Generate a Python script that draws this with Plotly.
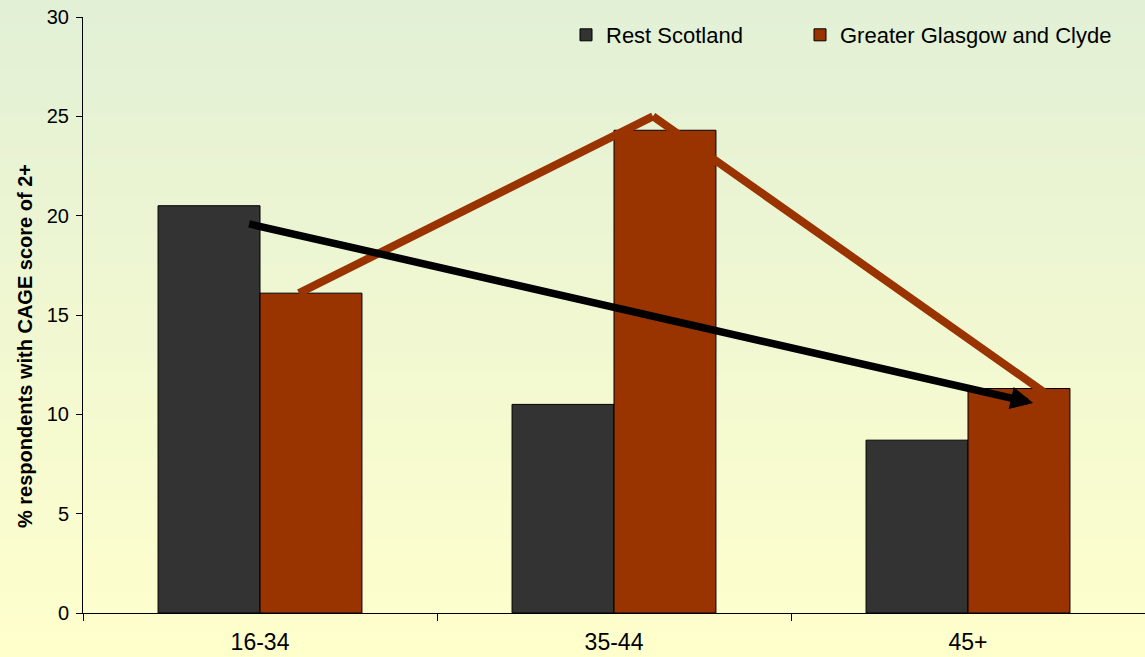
import plotly.graph_objects as go

categories = ["16-34", "35-44", "45+"]
rest_scotland = [20.5, 10.5, 8.7]
glasgow_clyde = [16.1, 24.3, 11.3]

# trend line drawn over the Glasgow bars (category index, value)
trend_x = [0.11, 1.11, 2.24]
trend_y = [16.1, 25.0, 10.8]
# overall trend arrow (tail -> tip)
arrow_x = [-0.035, 2.184]
arrow_y = [19.6, 10.57]

W, H = 1145, 657
ML, MR, MT, MB = 83, 0, 17, 44
PW, PH = W - ML - MR, H - MT - MB

FONT = "Arial, Liberation Sans, sans-serif"

fig = go.Figure()
fig.add_trace(go.Bar(x=categories, y=rest_scotland, name="Rest Scotland", legend="legend",
                     marker=dict(color="#333333", line=dict(color="#000000", width=1))))
fig.add_trace(go.Bar(x=categories, y=glasgow_clyde, name="Greater Glasgow and Clyde", legend="legend2",
                     marker=dict(color="#993300", line=dict(color="#000000", width=1))))

shapes = []
# background gradient (green at top, yellow at bottom)
top = (226, 240, 214)
bot = (255, 255, 204)
N = 80
y_lo = -MB / PH
y_hi = 1 + MT / PH
for i in range(N):
    t = i / (N - 1)
    c = tuple(round(bot[k] + (top[k] - bot[k]) * t) for k in range(3))
    y0 = y_lo + (y_hi - y_lo) * i / N
    y1 = y_lo + (y_hi - y_lo) * (i + 1) / N + 0.002
    shapes.append(dict(type="rect", xref="paper", yref="paper",
                       x0=-ML / PW - 0.01, x1=1.01, y0=y0, y1=y1,
                       fillcolor="rgb(%d,%d,%d)" % c, line=dict(width=0), layer="below"))

for i in range(len(trend_x) - 1):
    shapes.append(dict(type="line", xref="x", yref="y",
                       x0=trend_x[i], y0=trend_y[i], x1=trend_x[i + 1], y1=trend_y[i + 1],
                       line=dict(color="#993300", width=8), layer="above"))

leg_common = dict(orientation="h", yanchor="top", xanchor="left", y=1.005,
                  bgcolor="rgba(0,0,0,0)", font=dict(size=22, family=FONT))

fig.update_layout(
    width=W, height=H,
    margin=dict(l=ML, r=MR, t=MT, b=MB),
    paper_bgcolor="#FFFFCC",
    plot_bgcolor="rgba(0,0,0,0)",
    barmode="group",
    bargap=0.424,
    bargroupgap=0,
    shapes=shapes,
    font=dict(family=FONT, color="#000000"),
    showlegend=True,
    legend=dict(x=(566 - ML) / PW, **leg_common),
    legend2=dict(x=(800 - ML) / PW, **leg_common),
    xaxis=dict(type="category", showline=True, linecolor="#000000", linewidth=1,
               ticks="outside", tickson="boundaries", ticklen=7, tickcolor="#000000",
               tickfont=dict(size=23, family=FONT), showgrid=False, zeroline=False,
               ticklabelstandoff=8),
    yaxis=dict(range=[0, 30], dtick=5, showline=True, linecolor="#000000", linewidth=1,
               ticks="outside", ticklen=6, tickcolor="#000000",
               tickfont=dict(size=20, family=FONT), showgrid=False, zeroline=False,
               ticklabelstandoff=3),
    annotations=[
        dict(x=arrow_x[1], y=arrow_y[1], ax=arrow_x[0], ay=arrow_y[0],
             xref="x", yref="y", axref="x", ayref="y", text="", showarrow=True,
             arrowhead=2, arrowsize=0.6, arrowwidth=7.5, arrowcolor="#000000", standoff=0),
        dict(x=(25 - ML) / PW, y=(613 - 346) / PH, xref="paper", yref="paper",
             text="<b>% respondents with CAGE score of 2+</b>", textangle=-90,
             showarrow=False, xanchor="center", yanchor="middle",
             font=dict(size=20, family=FONT, color="#000000")),
    ],
)

fig.write_html("out.html", config={"displayModeBar": False},
               post_script="document.body.style.margin='0px';document.body.style.padding='0px';"
                           "document.body.style.overflow='hidden';")
